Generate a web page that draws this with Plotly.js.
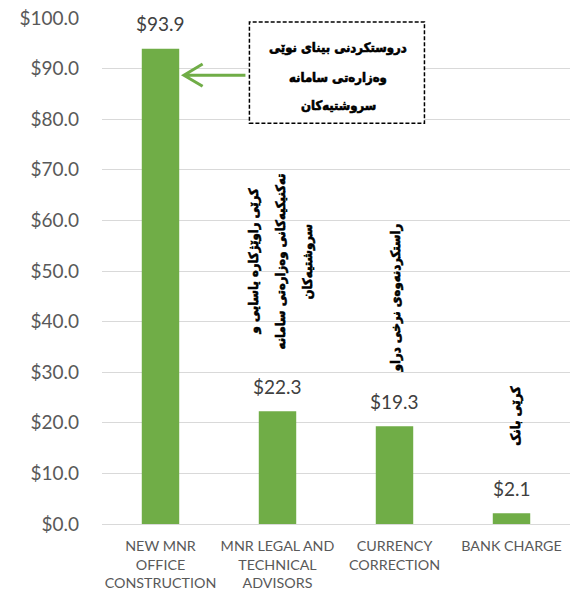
<!DOCTYPE html>
<html>
<head>
<meta charset="utf-8">
<script src="https://cdn.plot.ly/plotly-3.0.1.min.js"></script>
<style>
html,body{margin:0;padding:0;background:#fff;}#chart{width:570px;height:595px;}
#chart text.annotation-text[style*="DejaVu"]{stroke:#000;stroke-width:0.6px;}
</style>
</head>
<body>
<div id="chart"></div>
<script>
// Data
const categories = ["NEW MNR<br>OFFICE<br>CONSTRUCTION", "MNR LEGAL AND<br>TECHNICAL<br>ADVISORS", "CURRENCY<br>CORRECTION", "BANK CHARGE"];
const values = [93.9, 22.3, 19.3, 2.1];
const boxLines = ["دروستکردنی بینای نوێی", "وەزارەتی سامانە", "سروشتیەکان"];
const legalLines = ["کرێی راوێژکارە یاسایی و", "تەکنیکیەکانی وەزارەتی سامانە", "سروشتیەکان"];
const currencyLines = ["راستکردنەوەی نرخی دراو"];
const bankLines = ["کرێی بانک"];

const green = "#70AD47";
const arFont = {family: "'DejaVu Sans Condensed', 'DejaVu Sans'", size: 13, color: "#000", weight: 700};

const annotations = [];
// value labels
values.forEach((v, i) => {
  annotations.push({x: categories[i], y: v, xref: "x", yref: "y", text: "$" + v.toFixed(1),
    showarrow: false, yanchor: "middle", yshift: 25, font: {family: "Lato", size: 19, color: "#404040"}});
});
// box text
const boxY = [94.1, 88.3, 82.8];
boxLines.forEach((t, i) => {
  annotations.push({x: 1.52, y: boxY[i], xref: "x", yref: "y", text: t, showarrow: false, font: arFont});
});
// rotated labels
const legalShift = [-24, 3, 30];
legalLines.forEach((t, i) => {
  annotations.push({x: 1, y: 51.8, xref: "x", yref: "y", text: t, textangle: -90, xshift: legalShift[i], showarrow: false, font: arFont});
});
currencyLines.forEach((t) => {
  annotations.push({x: 2, y: 44.7, xref: "x", yref: "y", text: t, textangle: -90, xshift: 1, showarrow: false, font: arFont});
});
bankLines.forEach((t) => {
  annotations.push({x: 3, y: 21.3, xref: "x", yref: "y", text: t, textangle: -90, xshift: 4, showarrow: false, font: arFont});
});

const shapes = [
  {type: "rect", xref: "x", yref: "y", x0: 0.76, x1: 2.256, y0: 79.2, y1: 99.2,
   line: {color: "#000", width: 1.5, dash: "4px,2px"}, fillcolor: "#fff", layer: "above"},
  {type: "path", xref: "x", yref: "y", path: "M 0.726 88.7 L 0.205 88.7 M 0.36 90.9 L 0.2 88.7 L 0.36 86.5",
   line: {color: green, width: 3}}
];

const trace = {type: "bar", x: categories, y: values, marker: {color: green}, width: 0.32,
  hoverinfo: "skip"};

const layout = {
  width: 570, height: 595,
  margin: {l: 102, r: 0, t: 18, b: 71},
  paper_bgcolor: "#fff", plot_bgcolor: "#fff",
  showlegend: false,
  xaxis: {type: "category", showgrid: false, showline: true, linecolor: "#d9d9d9", linewidth: 1,
    ticks: "", automargin: false, tickangle: 0, ticklabelstandoff: 9,
    tickfont: {family: "Lato", size: 14.3, color: "#595959"}},
  yaxis: {range: [0, 100], dtick: 10, tick0: 0, tickprefix: "$", tickformat: ".1f",
    showgrid: true, gridcolor: "#d9d9d9", gridwidth: 1, zeroline: false, showline: false,
    ticks: "", ticklabelstandoff: 22, automargin: false,
    tickfont: {family: "Lato", size: 19, color: "#595959"}},
  annotations: annotations,
  shapes: shapes
};

Plotly.newPlot("chart", [trace], layout, {staticPlot: true, displayModeBar: false});
</script>
</body>
</html>
